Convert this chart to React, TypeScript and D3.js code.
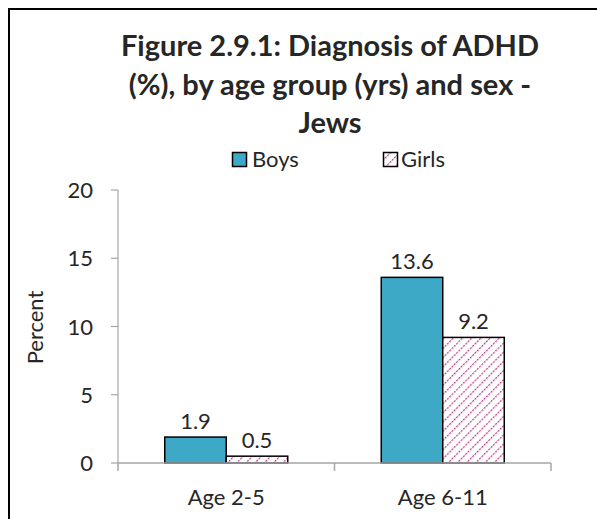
import React from "react";
import * as d3 from "d3";

const categories = ["Age 2-5", "Age 6-11"];
const seriesNames = ["Boys", "Girls"];
const boysValues = [1.9, 13.6];
const girlsValues = [0.5, 9.2];
const yTicks = [0, 5, 10, 15, 20];
const titleLines = ["Figure 2.9.1: Diagnosis of ADHD", "(%), by age group (yrs) and sex -", "Jews"];

const W = 597;
const H = 519;
const FONT = "Lato, 'Open Sans', sans-serif";
const BOYS = "#3ea9c6";
const GIRLS = "#b8368d";
const TEXT = "#262626";

export default function App() {
  const plotLeft = 118;
  const plotRight = 551;
  const plotTop = 190;
  const plotBottom = 463;

  const x0 = d3.scaleBand<string>().domain(categories).range([plotLeft, plotRight]).paddingInner(0).paddingOuter(0);
  const x1 = d3.scaleBand<string>().domain(seriesNames).range([0, x0.bandwidth()]).paddingInner(0).paddingOuter(0.76);
  const y = d3.scaleLinear().domain([0, 20]).range([plotBottom, plotTop]);

  const series = [
    { name: "Boys", values: boysValues, fill: BOYS },
    { name: "Girls", values: girlsValues, fill: "url(#hatch)" },
  ];

  return (
    <svg width={W} height={H} style={{ position: "absolute", left: 0, top: 0 }} fontFamily={FONT}>
      <defs>
        <pattern id="hatch" patternUnits="userSpaceOnUse" width="6.5" height="6.5" patternTransform="rotate(45)">
          <rect width="6.5" height="6.5" fill="white" />
          <line x1="0" y1="0" x2="0" y2="6.5" stroke={GIRLS} strokeWidth="2.4" strokeDasharray="2.2 1.05" />
        </pattern>
      </defs>
      <rect x={0} y={0} width={W} height={H} fill="white" />
      <rect x={9} y={9} width={W + 20} height={H + 20} fill="none" stroke="black" strokeWidth={2} />

      {titleLines.map((t, i) => (
        <text key={i} x={330} y={56 + i * 38.5} textAnchor="middle" fontSize={29} fontWeight="bold" fill={TEXT}>
          {t}
        </text>
      ))}

      {/* legend */}
      <rect x={232.5} y={152.5} width={14} height={14} fill={BOYS} stroke="black" strokeWidth={1.5} />
      <text x={252} y={167} fontSize={22} fill={TEXT}>{seriesNames[0]}</text>
      <rect x={383.5} y={152.5} width={14} height={14} fill="url(#hatch)" stroke="black" strokeWidth={1.5} />
      <text x={401} y={167} fontSize={22} fill={TEXT}>{seriesNames[1]}</text>

      {/* y axis */}
      <line x1={plotLeft} x2={plotLeft} y1={plotTop} y2={plotBottom} stroke="#a6a6a6" strokeWidth={1.2} />
      {yTicks.map((t) => (
        <g key={t}>
          <line x1={plotLeft - 7} x2={plotLeft} y1={y(t)} y2={y(t)} stroke="#a6a6a6" strokeWidth={1.2} />
          <text x={93} y={y(t) + 8} textAnchor="end" fontSize={22} fill={TEXT}>{t}</text>
        </g>
      ))}
      <text transform={`translate(43,${(plotTop + plotBottom) / 2 + 1}) rotate(-90)`} textAnchor="middle" fontSize={22} fill={TEXT}>
        Percent
      </text>

      {/* bars */}
      {categories.map((c, ci) => (
        <g key={c}>
          {series.map((s) => {
            const bx = (x0(c) as number) + (x1(s.name) as number);
            const bw = x1.bandwidth();
            const v = s.values[ci];
            return (
              <g key={s.name}>
                <rect x={bx} y={y(v)} width={bw} height={y(0) - y(v)} fill={s.fill} stroke="black" strokeWidth={1.5} />
                <text x={bx + bw / 2} y={y(v) - 8} textAnchor="middle" fontSize={22} fill={TEXT}>
                  {v.toFixed(1)}
                </text>
              </g>
            );
          })}
        </g>
      ))}

      {/* x axis */}
      <line x1={plotLeft} x2={plotRight} y1={plotBottom} y2={plotBottom} stroke="#a6a6a6" strokeWidth={1.5} />
      {[plotLeft, ...categories.map((c) => (x0(c) as number) + x0.bandwidth())].map((px, i) => (
        <line key={i} x1={px} x2={px} y1={plotBottom} y2={plotBottom + 8} stroke="#a6a6a6" strokeWidth={1.5} />
      ))}
      {categories.map((c) => (
        <text key={c} x={(x0(c) as number) + x0.bandwidth() / 2} y={505} textAnchor="middle" fontSize={22} fill={TEXT}>
          {c}
        </text>
      ))}
    </svg>
  );
}
